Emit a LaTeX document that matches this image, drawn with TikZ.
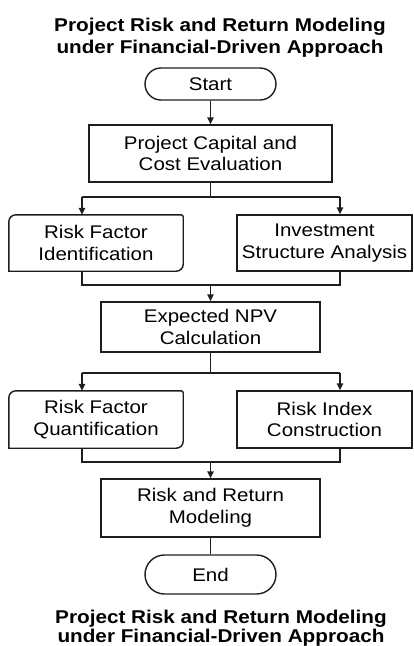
\documentclass[tikz,border=0pt]{standalone}
\usepackage{fontspec}
\setmainfont{Liberation Sans}[FakeStretch=1.12]
\usetikzlibrary{arrows.meta}
\definecolor{linec}{HTML}{1E1E1E}
\begin{document}
\begin{tikzpicture}[x=1pt,y=1pt,
  boxtext/.style={align=center, inner sep=0pt, text=black, font=\fontsize{18.3}{21.7}\selectfont},
  box/.style={boxtext, draw=linec, line width=1.4pt},
  titletext/.style={align=center, inner sep=0pt, text=black, anchor=base},
  conn/.style={draw=linec, line width=1.4pt},
  arr/.style={conn, -{Triangle[length=7pt,width=6.5pt]}}
]
\useasboundingbox (0,0) rectangle (414,-646);

% titles (base anchor = baseline of the last line)
\node[titletext, font=\fontsize{18.5}{21.9}\selectfont\bfseries] (ttop) at (220,-53)
  {Project Risk and Return Modeling\\under Financial-Driven Approach};
\node[titletext, font=\fontsize{18.5}{19.4}\selectfont\bfseries] (tbot) at (221,-642.5)
  {Project Risk and Return Modeling\\under Financial-Driven Approach};

% nodes
\node[box, minimum width=131pt, minimum height=32pt, rounded corners=16pt] (start) at (210.5,-84) {Start};
\node[box, minimum width=243pt, minimum height=57pt] (b1) at (210.5,-153.5) {Project Capital and\\Cost Evaluation};
\node[boxtext, minimum width=174pt, minimum height=56pt] (l1) at (96,-243) {Risk Factor\\Identification};
\node[box, minimum width=175pt, minimum height=56pt] (r1) at (324.5,-243) {Investment\\Structure Analysis};
\node[box, minimum width=219pt, minimum height=50pt] (b2) at (210.5,-327) {Expected NPV\\Calculation};
\node[boxtext, minimum width=174pt, minimum height=57pt] (l2) at (96,-419.5) {Risk Factor\\Quantification};
\node[box, minimum width=175pt, minimum height=57pt] (r2) at (324.5,-419.5) {Risk Index\\Construction};
\node[box, minimum width=219pt, minimum height=58pt] (b3) at (210.5,-508) {Risk and Return\\Modeling};
\node[box, minimum width=131pt, minimum height=39pt, rounded corners=19.5pt] (end) at (210.5,-574.5) {End};

% outlines of the left boxes (rounded top-left and bottom-right corners)
\foreach \n in {l1,l2}{
  \draw[conn] (\n.south west) -- ([yshift=-7pt]\n.north west)
    arc[start angle=180, end angle=90, radius=7pt] -- ([xshift=-2pt]\n.north east)
    arc[start angle=90, end angle=0, radius=2pt] -- ([yshift=7pt]\n.south east)
    arc[start angle=0, end angle=-90, radius=7pt] -- cycle;
}

% fork / join points
\coordinate (f1l) at (82,-197);  \coordinate (f1r) at (340,-197);
\coordinate (j1l) at (82,-285);  \coordinate (j1r) at (340,-285);
\coordinate (f2l) at (82,-373);  \coordinate (f2r) at (340,-373);
\coordinate (j2l) at (82,-462);  \coordinate (j2r) at (340,-462);

% connectors
\draw[arr] (start) -- (b1);
\draw[conn] (b1.south) -- (b1.south |- f1l);
\draw[conn] (f1l) -- (f1r);
\draw[arr] (f1l) -- (f1l |- l1.north);
\draw[arr] (f1r) -- (f1r |- r1.north);
\draw[conn] (l1.south -| j1l) -- (j1l) -- (j1r) -- (r1.south -| j1r);
\draw[arr] (b2.north |- j1l) -- (b2.north);
\draw[conn] (b2.south) -- (b2.south |- f2l);
\draw[conn] (f2l) -- (f2r);
\draw[arr] (f2l) -- (f2l |- l2.north);
\draw[arr] (f2r) -- (f2r |- r2.north);
\draw[conn] (l2.south -| j2l) -- (j2l) -- (j2r) -- (r2.south -| j2r);
\draw[arr] (b3.north |- j2l) -- (b3.north);
\draw[conn] (b3) -- (end);
\end{tikzpicture}
\end{document}
